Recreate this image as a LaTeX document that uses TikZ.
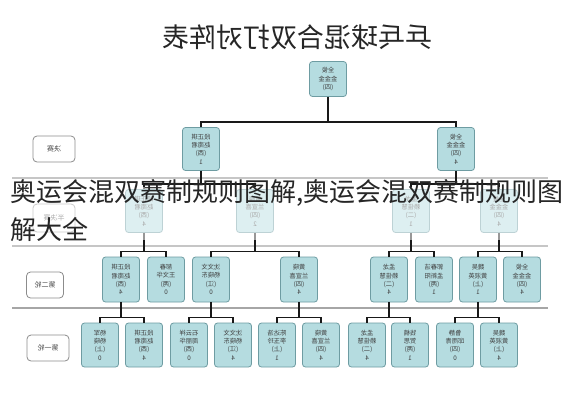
\documentclass[tikz,border=0pt]{standalone}
\usepackage{fontspec}
\setmainfont{Noto Sans CJK SC}
\usetikzlibrary{calc}

\definecolor{boxfill}{HTML}{B5DCE0}
\definecolor{boxline}{HTML}{6E9CA2}
\definecolor{sepgray}{HTML}{C6C6C6}

\tikzset{
  team/.style={draw=boxline, fill=boxfill, rounded corners=3pt, line width=0.8pt,
    minimum width=37pt, minimum height=43pt, inner sep=1pt, align=center,
    font=\fontsize{6.3}{8.3}\selectfont, text=black!75, xscale=-1},
  roundlbl/.style={draw=black!45, fill=white, rounded corners=4pt, line width=0.8pt,
    minimum width=42pt, minimum height=26pt, inner sep=1pt,
    font=\fontsize{7}{8}\selectfont, text=black!70, xscale=-1},
  conn/.style={line width=1.3pt, black!90},
  sep/.style={line width=1.6pt, sepgray}
}

\begin{document}
\begin{tikzpicture}[x=1pt,y=-1pt]
\useasboundingbox[fill=white] (0,0) rectangle (565,400);

% title (printed mirrored)
\node[xscale=-1, font=\fontsize{27}{27}\selectfont, text=black!85] (title) at (297,37) {乒乓球混合双打对阵表};

% row separators
\draw[sep] (12,178) -- (548,178);
\draw[sep] (12,246) -- (548,246);
\draw[sep, line width=2.2pt, black!35] (12,308) -- (548,308);

% row labels
\node[roundlbl] (lblfin) at (54,149) {决赛};
\node[roundlbl, minimum height=28pt] (lblqf) at (54,218) {半决赛};
\node[roundlbl, minimum width=37pt] (lbltwo) at (45,285) {第二轮};
\node[roundlbl] (lblone) at (48,348) {第一轮};

% final and semifinals
\node[team, minimum height=35pt] (fin) at (328,79) {全俊\\金金金\\(四)};
\node[team] (semi1) at (201,149) {段正琪\\赵南君\\(西)\\1};
\node[team] (semi2) at (456,149) {全俊\\金金金\\(四)\\4};

% quarter row
\foreach \i/\x/\t in {1/144/{段正琪\\赵南君\\(西)\\4}, 2/255/{黄晓\\兰宣喜\\(四)\\2},
    3/411/{孟龙\\赖佳慧\\(二)\\1}, 4/499/{全俊\\金金金\\(四)\\4}}
  \node[team] (qf\i) at (\x,211) {\t};

% second round
\foreach \i/\x/\t in {1/121/{段正琪\\赵南君\\(西)\\4}, 2/166/{郝春\\王文华\\(两)\\0},
    3/211/{沈文文\\杨晓东\\(江)\\0}, 4/299/{黄晓\\兰宣喜\\(四)\\4},
    5/389/{孟龙\\赖佳慧\\(二)\\4}, 6/434/{郭春洁\\孟新阳\\(两)\\1},
    7/478/{魏吴\\黄淑英\\(上)\\1}, 8/522/{全俊\\金金金\\(四)\\4}}
  \node[team, minimum height=45pt] (rtwo\i) at (\x,279.5) {\t};

% first round
\foreach \i/\x/\t in {1/100/{杨军\\杨晓\\(上)\\0}, 2/144/{段正琪\\赵南君\\(西)\\4},
    3/189/{石云祥\\周丽华\\(西)\\0}, 4/233/{沈文文\\杨晓东\\(江)\\4},
    5/277/{陈达浩\\李玉玲\\(上)\\1}, 6/321/{黄晓\\兰宣喜\\(四)\\4},
    7/367/{孟龙\\赖佳慧\\(二)\\4}, 8/410/{钱楠\\贺思\\(两)\\1},
    9/455/{鲁静\\邱雨青\\(四)\\0}, 10/499/{魏吴\\黄淑英\\(上)\\4}}
  \node[team, minimum height=44pt] (rone\i) at (\x,345) {\t};

% brackets
\foreach \p/\a/\b in {fin/semi1/semi2, semi1/qf1/qf2, semi2/qf3/qf4,
    qf1/rtwo1/rtwo2, qf2/rtwo3/rtwo4, qf3/rtwo5/rtwo6, qf4/rtwo7/rtwo8,
    rtwo1/rone1/rone2, rtwo3/rone3/rone4, rtwo4/rone5/rone6,
    rtwo5/rone7/rone8, rtwo7/rone9/rone10}{
  \draw[conn] (\a.north) -- ++(0,-5) coordinate (k) -| (\b.north);
  \draw[conn] (\p.south) -- (\p.south |- k);
}

% faded band and overlaid caption
\fill[white, opacity=0.55] (0,187) rectangle (565,240);
\node[anchor=base west, inner sep=0, font=\fontsize{26}{26}\selectfont, text=black!85] (cap1) at (10,201) {奥运会混双赛制规则图解,奥运会混双赛制规则图};
\node[anchor=base west, inner sep=0, font=\fontsize{26}{26}\selectfont, text=black!85] (cap2) at (10,239) {解大全};
\end{tikzpicture}
\end{document}
